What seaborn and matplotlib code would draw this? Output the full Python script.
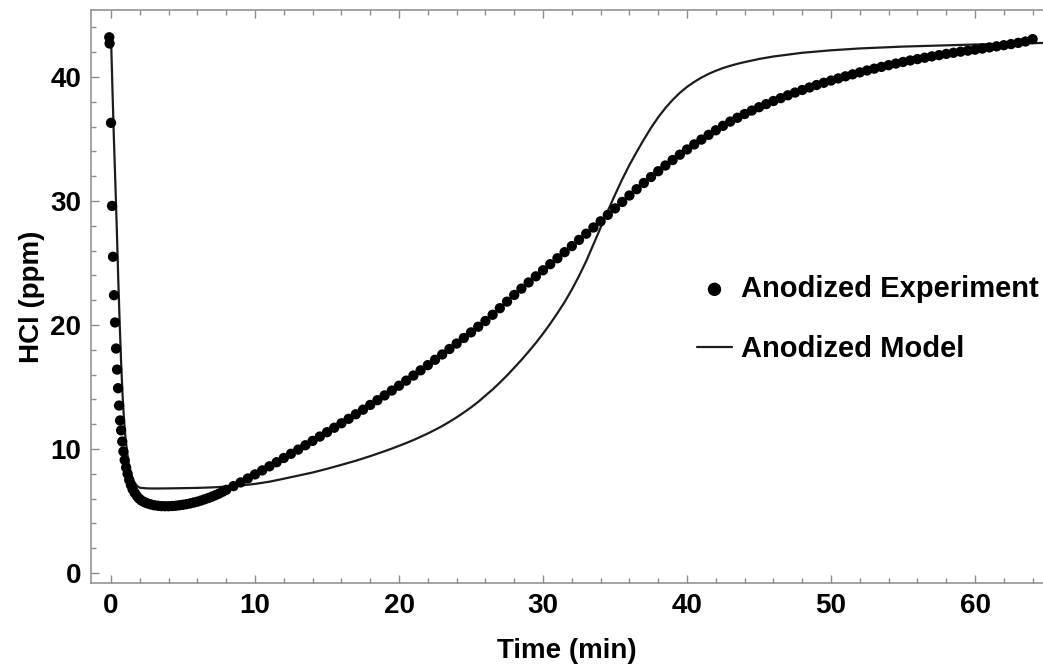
import matplotlib
matplotlib.use("Agg")
import matplotlib.pyplot as plt
import pandas as pd
import seaborn as sns
from matplotlib.ticker import MultipleLocator

# Measured HCl concentration in the anodized chamber (minutes, ppm)
exp_time = [
    -0.12, -0.10, 0.00, 0.07, 0.14, 0.21, 0.28, 0.35, 0.42, 0.49, 0.56, 0.63,
    0.70, 0.78, 0.86, 0.95, 1.05, 1.15, 1.26, 1.38, 1.50, 1.65, 1.80, 1.95,
    2.10, 2.30, 2.50, 2.75, 3.00, 3.25, 3.50, 3.75,
    4.00, 4.25, 4.50, 4.75, 5.00, 5.25, 5.50, 5.75, 6.00, 6.25, 6.50, 6.75,
    7.00, 7.25, 7.50, 7.75, 8.00,
    8.5, 9.0, 9.5, 10.0, 10.5, 11.0, 11.5, 12.0, 12.5, 13.0, 13.5, 14.0,
    14.5, 15.0, 15.5, 16.0, 16.5, 17.0, 17.5, 18.0, 18.5, 19.0, 19.5, 20.0,
    20.5, 21.0, 21.5, 22.0, 22.5, 23.0, 23.5, 24.0, 24.5, 25.0, 25.5, 26.0,
    26.5, 27.0, 27.5, 28.0, 28.5, 29.0, 29.5, 30.0, 30.5, 31.0, 31.5, 32.0,
    32.5, 33.0, 33.5, 34.0, 34.5, 35.0, 35.5, 36.0, 36.5, 37.0, 37.5, 38.0,
    38.5, 39.0, 39.5, 40.0, 40.5, 41.0, 41.5, 42.0, 42.5, 43.0, 43.5, 44.0,
    44.5, 45.0, 45.5, 46.0, 46.5, 47.0, 47.5, 48.0, 48.5, 49.0, 49.5, 50.0,
    50.5, 51.0, 51.5, 52.0, 52.5, 53.0, 53.5, 54.0, 54.5, 55.0, 55.5, 56.0,
    56.5, 57.0, 57.5, 58.0, 58.5, 59.0, 59.5, 60.0, 60.5, 61.0, 61.5, 62.0,
    62.5, 63.0, 63.5, 64.0,
]
exp_hcl = [
    43.2, 42.7, 36.3, 29.6, 25.5, 22.4, 20.2, 18.1, 16.4, 14.9, 13.5, 12.3,
    11.5, 10.6, 9.8, 9.1, 8.5, 8.0, 7.5, 7.1, 6.75, 6.45, 6.2, 6.0,
    5.85, 5.72, 5.62, 5.53, 5.46, 5.42, 5.39, 5.38,
    5.38, 5.40, 5.42, 5.46, 5.50, 5.55, 5.61, 5.68, 5.75, 5.84, 5.94, 6.04,
    6.15, 6.27, 6.40, 6.55, 6.70,
    7.00, 7.30, 7.62, 7.95, 8.27, 8.60, 8.93, 9.27, 9.61, 9.95, 10.30, 10.65,
    11.00, 11.35, 11.71, 12.07, 12.43, 12.80, 13.17, 13.55, 13.93, 14.32, 14.71, 15.10,
    15.51, 15.92, 16.34, 16.76, 17.19, 17.62, 18.06, 18.50, 18.95, 19.40, 19.86, 20.32,
    20.82, 21.35, 21.88, 22.42, 22.93, 23.43, 23.92, 24.41, 24.90, 25.38, 25.87, 26.36,
    26.86, 27.36, 27.86, 28.36, 28.88, 29.40, 29.92, 30.44, 30.95, 31.45, 31.93, 32.40,
    32.86, 33.30, 33.73, 34.15, 34.56, 34.95, 35.33, 35.70, 36.06, 36.40, 36.71, 37.01,
    37.29, 37.56, 37.81, 38.06, 38.29, 38.52, 38.74, 38.95, 39.15, 39.35, 39.53, 39.71,
    39.88, 40.05, 40.21, 40.37, 40.52, 40.67, 40.81, 40.95, 41.08, 41.21, 41.33, 41.44,
    41.55, 41.66, 41.76, 41.86, 41.95, 42.04, 42.12, 42.20, 42.29, 42.38, 42.47, 42.56,
    42.65, 42.75, 42.86, 43.05,
]

# Fitted model curve
model_time = [
    0.0, 0.1, 0.2, 0.3, 0.4, 0.5, 0.6, 0.7, 0.8, 0.9, 1.0, 1.2, 1.4, 1.6, 1.8,
    2.0, 2.5, 3.0, 4.0, 5.0, 6.0, 7.0, 8.0, 9.0, 10.0, 11.0, 12.0, 13.0, 14.0,
    15.0, 16.0, 17.0, 18.0, 18.5, 19.0, 19.5, 20.0, 20.5, 21.0, 21.5, 22.0,
    22.5, 23.0, 23.5, 24.0, 24.5, 25.0, 25.5, 26.0, 26.5, 27.0, 27.5, 28.0,
    28.5, 29.0, 29.5, 30.0, 30.5, 31.0, 31.5, 32.0, 32.5, 33.0, 33.5, 34.0,
    34.5, 35.0, 35.5, 36.0, 36.5, 37.0, 37.5, 38.0, 38.5, 39.0, 39.5, 40.0,
    40.5, 41.0, 41.5, 42.0, 42.5, 43.0, 43.5, 44.0, 45.0, 46.0, 48.0, 50.0,
    52.0, 55.0, 58.0, 61.0, 65.0,
]
model_hcl = [
    43.2, 39.0, 35.0, 31.5, 27.8, 23.8, 20.2, 17.0, 14.4, 12.4, 10.9, 9.0, 7.95, 7.35, 7.02,
    6.87, 6.82, 6.81, 6.82, 6.84, 6.86, 6.90, 6.96, 7.05, 7.18, 7.36, 7.60, 7.85, 8.10,
    8.40, 8.72, 9.05, 9.42, 9.62, 9.82, 10.03, 10.25, 10.48, 10.72, 10.98, 11.25,
    11.54, 11.85, 12.19, 12.55, 12.94, 13.35, 13.80, 14.30, 14.80, 15.35, 15.93, 16.55,
    17.18, 17.85, 18.55, 19.30, 20.10, 20.95, 21.85, 22.85, 23.95, 25.15, 26.50, 27.85,
    29.20, 30.50, 31.75, 32.90, 33.95, 34.95, 35.90, 36.75, 37.50, 38.15, 38.72, 39.20,
    39.60, 39.95, 40.25, 40.50, 40.72, 40.90, 41.06, 41.20, 41.45, 41.65, 41.95, 42.15,
    42.30, 42.45, 42.55, 42.65, 42.75,
]

exp_df = pd.DataFrame({"Time (min)": exp_time, "HCl (ppm)": exp_hcl})
model_df = pd.DataFrame({"Time (min)": model_time, "HCl (ppm)": model_hcl})

sns.set_style("white")
plt.rcParams["font.family"] = ["Liberation Sans", "DejaVu Sans"]
plt.rcParams["font.weight"] = "bold"
plt.rcParams["axes.labelweight"] = "bold"
plt.rcParams["text.color"] = "black"
plt.rcParams["axes.labelcolor"] = "black"

frame_color = "#8c8c8c"
label_size = 20

fig = plt.figure(figsize=(10.43, 6.68), dpi=100)
ax = fig.add_axes([91 / 1043, 85 / 668, (1043 - 91) / 1043, 573 / 668])

sns.lineplot(data=model_df, x="Time (min)", y="HCl (ppm)", ax=ax,
             color="#1c1c1c", linewidth=1.6, sort=False, estimator=None,
             label="Anodized Model", zorder=2)
sns.scatterplot(data=exp_df, x="Time (min)", y="HCl (ppm)", ax=ax,
                color="black", s=55, edgecolor="none",
                label="Anodized Experiment", zorder=3)

ax.set_xlim(-1.39, 64.72)
ax.set_ylim(-0.81, 45.4)

ax.xaxis.set_major_locator(MultipleLocator(10))
ax.xaxis.set_minor_locator(MultipleLocator(2))
ax.yaxis.set_major_locator(MultipleLocator(10))
ax.yaxis.set_minor_locator(MultipleLocator(2))

ax.tick_params(which="both", direction="in", top=True, bottom=True,
               left=True, right=False, color=frame_color, width=1.0,
               labelcolor="black")
ax.tick_params(which="major", length=6, labelsize=label_size, pad=7)
ax.tick_params(which="minor", length=3.5)
for lab in ax.get_xticklabels() + ax.get_yticklabels():
    lab.set_fontweight("bold")

for side in ["left", "bottom", "top"]:
    ax.spines[side].set_color(frame_color)
    ax.spines[side].set_linewidth(1.1)
ax.spines["right"].set_visible(False)

ax.set_xlabel("Time (min)", fontsize=label_size, fontweight="bold", labelpad=14)
ax.set_ylabel("HCl (ppm)", fontsize=label_size, fontweight="bold", labelpad=4)

handles, labels = ax.get_legend_handles_labels()
order = [labels.index("Anodized Experiment"), labels.index("Anodized Model")]
ax.legend([handles[i] for i in order], [labels[i] for i in order],
          loc="upper left", bbox_to_anchor=(697 / 1043, 1 - 275 / 668),
          bbox_transform=fig.transFigure, frameon=False,
          prop={"size": 21, "weight": "bold"},
          handlelength=1.2, handletextpad=0.32, labelspacing=1.1,
          borderpad=0, borderaxespad=0, markerscale=1.3)

fig.savefig("out.png", dpi=100)
